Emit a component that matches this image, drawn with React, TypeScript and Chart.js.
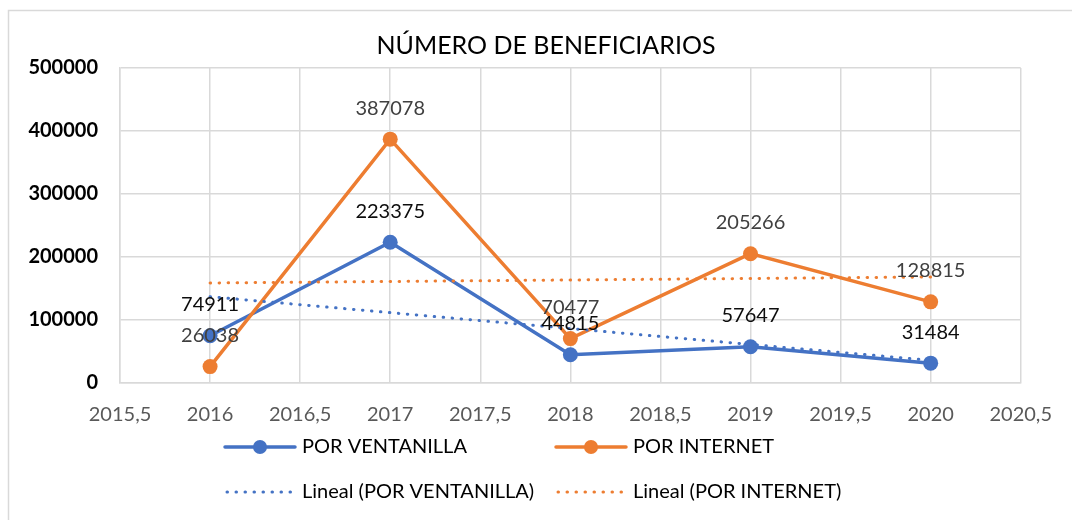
import React, { useEffect, useRef } from "react";
import { Chart, registerables } from "chart.js";

Chart.register(...registerables);

const years = [2016, 2017, 2018, 2019, 2020];
const ventanilla = [74911, 223375, 44815, 57647, 31484];
const internet = [26038, 387078, 70477, 205266, 128815];
const xTickLabelsNote = ["2015,5", "2016", "2016,5", "2017", "2017,5", "2018", "2018,5", "2019", "2019,5", "2020", "2020,5"];

const TITLE = "NÚMERO DE BENEFICIARIOS";
const BLUE = "#4472C4";
const ORANGE = "#ED7D31";
const FONT = "Lato, 'Open Sans', sans-serif";

function linearTrend(xs: number[], ys: number[]) {
  const n = xs.length;
  const mx = xs.reduce((a, b) => a + b, 0) / n;
  const my = ys.reduce((a, b) => a + b, 0) / n;
  let num = 0;
  let den = 0;
  for (let i = 0; i < n; i++) {
    num += (xs[i] - mx) * (ys[i] - my);
    den += (xs[i] - mx) * (xs[i] - mx);
  }
  const slope = num / den;
  const x0 = xs[0];
  const x1 = xs[n - 1];
  return [
    { x: x0, y: my + slope * (x0 - mx) },
    { x: x1, y: my + slope * (x1 - mx) },
  ];
}

const decorPlugin = {
  id: "decor",
  beforeDraw(chart: any) {
    const ctx = chart.ctx;
    ctx.save();
    ctx.fillStyle = "#ffffff";
    ctx.fillRect(0, 0, chart.width, chart.height);
    ctx.strokeStyle = "#d9d9d9";
    ctx.lineWidth = 1.5;
    ctx.strokeRect(8.5, 10.5, chart.width + 20, chart.height + 20);
    ctx.fillStyle = "#000000";
    ctx.font = `25px ${FONT}`;
    ctx.textAlign = "center";
    ctx.textBaseline = "middle";
    ctx.fillText(TITLE, 546, 46);
    ctx.restore();
  },
  afterDatasetsDraw(chart: any) {
    const ctx = chart.ctx;
    ctx.save();
    ctx.font = `20px ${FONT}`;
    ctx.textAlign = "center";
    ctx.textBaseline = "middle";
    const colors = ["#0d0d0d", "#404040"];
    [0, 1].forEach((di) => {
      const meta = chart.getDatasetMeta(di);
      const ds = chart.data.datasets[di];
      meta.data.forEach((pt: any, i: number) => {
        ctx.fillStyle = colors[di];
        ctx.fillText(String(ds.data[i].y), pt.x, pt.y - 31);
      });
    });
    ctx.restore();
  },
  afterDraw(chart: any) {
    const ctx = chart.ctx;
    ctx.save();
    const items = [
      { x: 225, y: 447, color: BLUE, dotted: false, text: "POR VENTANILLA" },
      { x: 556, y: 447, color: ORANGE, dotted: false, text: "POR INTERNET" },
      { x: 225, y: 492, color: BLUE, dotted: true, text: "Lineal (POR VENTANILLA)" },
      { x: 556, y: 492, color: ORANGE, dotted: true, text: "Lineal (POR INTERNET)" },
    ];
    items.forEach((it) => {
      ctx.strokeStyle = it.color;
      ctx.beginPath();
      if (it.dotted) {
        ctx.lineWidth = 3;
        ctx.lineCap = "round";
        ctx.setLineDash([0.5, 8.5]);
        ctx.moveTo(it.x + 2, it.y);
        ctx.lineTo(it.x + 68, it.y);
        ctx.stroke();
        ctx.setLineDash([]);
      } else {
        ctx.lineWidth = 3.5;
        ctx.lineCap = "round";
        ctx.moveTo(it.x, it.y);
        ctx.lineTo(it.x + 70, it.y);
        ctx.stroke();
        ctx.fillStyle = it.color;
        ctx.beginPath();
        ctx.arc(it.x + 35, it.y, 7, 0, Math.PI * 2);
        ctx.fill();
      }
      ctx.fillStyle = "#000000";
      ctx.font = `20px ${FONT}`;
      ctx.textAlign = "left";
      ctx.textBaseline = "middle";
      ctx.fillText(it.text, it.x + 77, it.y);
    });
    ctx.restore();
  },
};

export default function App() {
  const ref = useRef<HTMLCanvasElement | null>(null);
  useEffect(() => {
    document.body.style.margin = "0";
    if (!ref.current) return;
    const chart = new Chart(ref.current, {
      type: "scatter",
      data: {
        datasets: [
          {
            label: "POR VENTANILLA",
            data: years.map((x, i) => ({ x, y: ventanilla[i] })),
            showLine: true,
            borderColor: BLUE,
            backgroundColor: BLUE,
            borderWidth: 3.5,
            pointRadius: 7.5,
            pointBorderWidth: 0,
            order: 2,
          },
          {
            label: "POR INTERNET",
            data: years.map((x, i) => ({ x, y: internet[i] })),
            showLine: true,
            borderColor: ORANGE,
            backgroundColor: ORANGE,
            borderWidth: 3.5,
            pointRadius: 7.5,
            pointBorderWidth: 0,
            order: 1,
          },
          {
            label: "Lineal (POR VENTANILLA)",
            data: linearTrend(years, ventanilla),
            showLine: true,
            borderColor: BLUE,
            backgroundColor: BLUE,
            borderWidth: 3,
            borderDash: [0.5, 8.5],
            borderCapStyle: "round",
            pointRadius: 0,
            order: 0,
          },
          {
            label: "Lineal (POR INTERNET)",
            data: linearTrend(years, internet),
            showLine: true,
            borderColor: ORANGE,
            backgroundColor: ORANGE,
            borderWidth: 3,
            borderDash: [0.5, 8.5],
            borderCapStyle: "round",
            pointRadius: 0,
            order: 0,
          },
        ] as any,
      },
      options: {
        animation: false,
        responsive: false,
        maintainAspectRatio: false,
        layout: { padding: { left: 0, right: 51, top: 68, bottom: 0 } },
        plugins: {
          legend: { display: false },
          title: { display: false },
          tooltip: { enabled: false },
        },
        scales: {
          x: {
            type: "linear",
            min: 2015.5,
            max: 2020.5,
            afterFit: (s: any) => {
              s.height = 137;
            },
            afterBuildTicks: (s: any) => {
              s.ticks = xTickLabelsNote.map((_, i) => ({ value: 2015.5 + i * 0.5 }));
            },
            ticks: {
              color: "#595959",
              font: { family: FONT, size: 20 },
              padding: 20,
              callback: (_v: any, i: number) => xTickLabelsNote[i],
            },
            grid: { color: "#d9d9d9", lineWidth: 1.5, drawTicks: false },
            border: { color: "#d9d9d9", width: 1.5 },
          },
          y: {
            min: 0,
            max: 500000,
            afterFit: (s: any) => {
              s.width = 120;
            },
            ticks: {
              stepSize: 100000,
              color: "#000000",
              font: { family: FONT, size: 20, weight: "bold" },
              padding: 22,
              callback: (v: any) => String(v),
            },
            grid: { color: "#d9d9d9", lineWidth: 1.5, drawTicks: false },
            border: { color: "#d9d9d9", width: 1.5 },
          },
        },
      } as any,
      plugins: [decorPlugin],
    });
    return () => chart.destroy();
  }, []);
  return <canvas ref={ref} width={1072} height={520} style={{ display: "block" }} />;
}
